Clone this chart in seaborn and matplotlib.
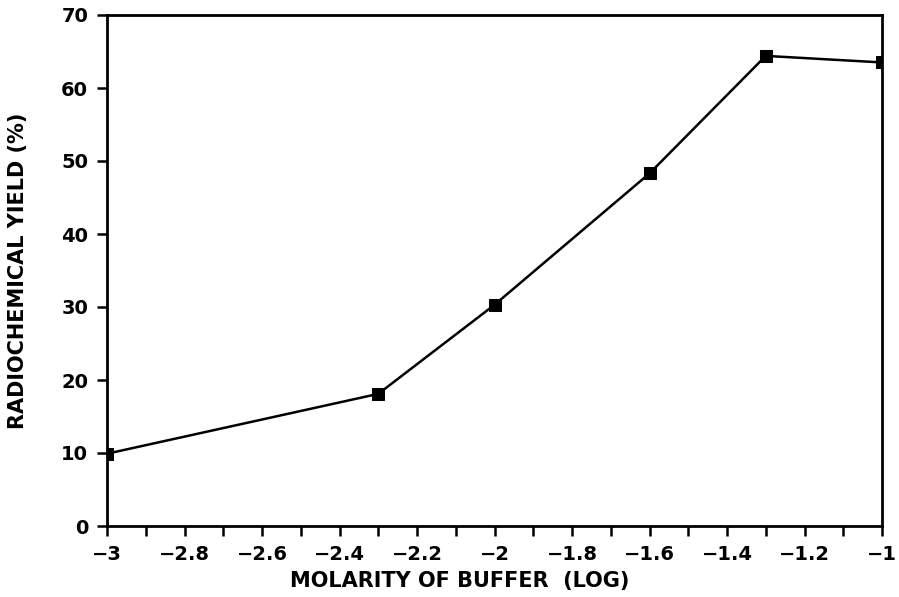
import matplotlib
matplotlib.use("Agg")
import matplotlib.pyplot as plt
import seaborn as sns
import pandas as pd
from matplotlib.ticker import MultipleLocator

molarity_log = [-3.0, -2.3, -2.0, -1.6, -1.3, -1.0]
yield_pct = [9.9, 18.1, 30.3, 48.3, 64.4, 63.5]
x_ticks = [-3, -2.8, -2.6, -2.4, -2.2, -2, -1.8, -1.6, -1.4, -1.2, -1]
x_tick_labels = ["\u22123", "\u22122.8", "\u22122.6", "\u22122.4", "\u22122.2", "\u22122",
                 "\u22121.8", "\u22121.6", "\u22121.4", "\u22121.2", "\u22121"]
y_ticks = [0, 10, 20, 30, 40, 50, 60, 70]

sns.set_theme(style="ticks")
plt.rcParams['font.family'] = ['DejaVu Sans']
plt.rcParams['font.weight'] = 'bold'
plt.rcParams['text.color'] = 'black'
plt.rcParams['axes.labelcolor'] = 'black'
plt.rcParams['xtick.color'] = 'black'
plt.rcParams['ytick.color'] = 'black'

df = pd.DataFrame({"x": molarity_log, "y": yield_pct})

fig = plt.figure(figsize=(8.99, 5.97), dpi=100)
ax = fig.add_axes([107/899, 1 - 526/597, (882-107)/899, (526-15)/597])
sns.lineplot(data=df, x="x", y="y", ax=ax, color="black", linewidth=1.8,
             marker="s", markersize=8, markeredgecolor="black", markerfacecolor="black")

ax.set_xlim(-3, -1)
ax.set_ylim(0, 70)
ax.set_xticks(x_ticks)
ax.set_xticklabels(x_tick_labels)
ax.set_yticks(y_ticks)
ax.xaxis.set_minor_locator(MultipleLocator(0.1))
ax.tick_params(axis='both', which='both', direction='out', width=1.8, length=7.5, color='black',
               labelsize=14, pad=6, labelcolor='black')
for lab in ax.get_xticklabels() + ax.get_yticklabels():
    lab.set_fontweight('bold')
for s in ax.spines.values():
    s.set_visible(True)
    s.set_linewidth(2)
    s.set_color('black')

ax.set_xlabel("MOLARITY OF BUFFER  (LOG)", fontsize=15, fontweight='bold', color='black')
ax.set_ylabel("RADIOCHEMICAL YIELD (%)", fontsize=15, fontweight='bold', color='black')
ax.xaxis.set_label_coords((460-107)/(882-107), -(581-526)/(526-15))
ax.yaxis.set_label_coords(-(107-18)/(882-107), 0.5)
ax.xaxis.label.set_va('center')
ax.yaxis.label.set_va('center')

fig.savefig("out.png", dpi=100)
